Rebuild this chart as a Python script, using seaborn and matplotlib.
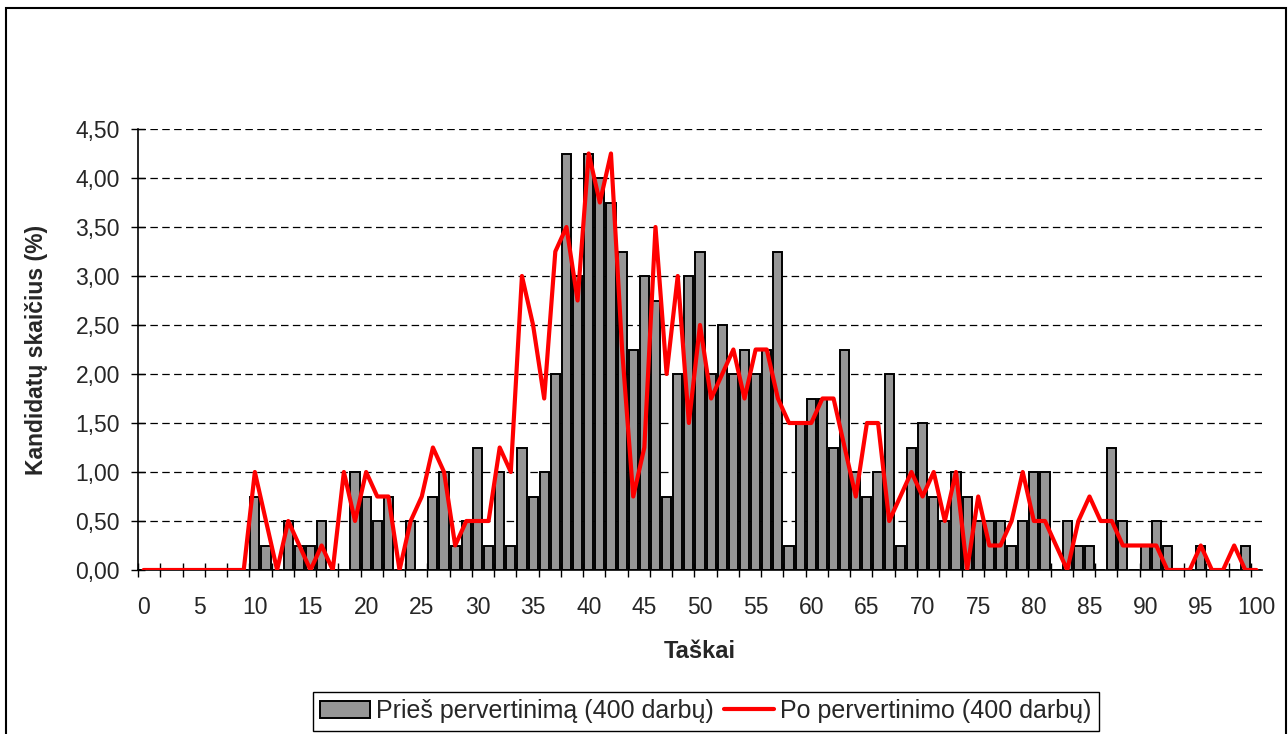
#!/usr/bin/env python3
"""Score distribution before / after re-marking (400 works)."""

import matplotlib
matplotlib.use("Agg")
import matplotlib.pyplot as plt
from matplotlib.patches import Patch, Rectangle
from matplotlib.lines import Line2D
from matplotlib.ticker import FixedLocator
import pandas as pd
import seaborn as sns

points = list(range(0, 101))

before = [
    0, 0, 0, 0, 0, 0, 0, 0, 0, 0,                      # 0-9
    0.75, 0.25, 0, 0.5, 0.25, 0.25, 0.5, 0, 0, 1.0,    # 10-19
    0.75, 0.5, 0.75, 0, 0.5, 0, 0.75, 1.0, 0.25, 0.5,  # 20-29
    1.25, 0.25, 1.0, 0.25, 1.25, 0.75, 1.0, 2.0, 4.25, 3.0,  # 30-39
    4.25, 4.0, 3.75, 3.25, 2.25, 3.0, 2.75, 0.75, 2.0, 3.0,  # 40-49
    3.25, 2.0, 2.5, 2.0, 2.25, 2.0, 2.25, 3.25, 0.25, 1.5,   # 50-59
    1.75, 1.75, 1.25, 2.25, 1.0, 0.75, 1.0, 2.0, 0.25, 1.25, # 60-69
    1.5, 0.75, 0.5, 1.0, 0.75, 0.5, 0.5, 0.5, 0.25, 0.5,     # 70-79
    1.0, 1.0, 0, 0.5, 0.25, 0.25, 0, 1.25, 0.5, 0,           # 80-89
    0.25, 0.5, 0.25, 0, 0, 0.25, 0, 0, 0, 0.25,              # 90-99
    0,                                                       # 100
]

after = [
    0, 0, 0, 0, 0, 0, 0, 0, 0, 0,                       # 0-9
    1.0, 0.5, 0, 0.5, 0.25, 0, 0.25, 0, 1.0, 0.5,       # 10-19
    1.0, 0.75, 0.75, 0, 0.5, 0.75, 1.25, 1.0, 0.25, 0.5,  # 20-29
    0.5, 0.5, 1.25, 1.0, 3.0, 2.5, 1.75, 3.25, 3.5, 2.75, # 30-39
    4.25, 3.75, 4.25, 2.25, 0.75, 1.25, 3.5, 2.0, 3.0, 1.5,   # 40-49
    2.5, 1.75, 2.0, 2.25, 1.75, 2.25, 2.25, 1.75, 1.5, 1.5,   # 50-59
    1.5, 1.75, 1.75, 1.25, 0.75, 1.5, 1.5, 0.5, 0.75, 1.0,    # 60-69
    0.75, 1.0, 0.5, 1.0, 0, 0.75, 0.25, 0.25, 0.5, 1.0,       # 70-79
    0.5, 0.5, 0.25, 0, 0.5, 0.75, 0.5, 0.5, 0.25, 0.25,       # 80-89
    0.25, 0.25, 0, 0, 0, 0.25, 0, 0, 0.25, 0,                 # 90-99
    0,                                                        # 100
]

x_labels = [str(v) for v in range(0, 101, 5)]
y_ticks = [0, 0.5, 1.0, 1.5, 2.0, 2.5, 3.0, 3.5, 4.0, 4.5]
y_labels = ["0,00", "0,50", "1,00", "1,50", "2,00", "2,50", "3,00", "3,50", "4,00", "4,50"]

label_before = "Prieš pervertinimą (400 darbų)"
label_after = "Po pervertinimo (400 darbų)"

BAR_GRAY = "#969696"
RED = "#ff0000"


def main() -> None:
    sns.set_style("white")
    plt.rcParams["font.family"] = ["Liberation Sans", "DejaVu Sans"]

    df = pd.DataFrame({"points": points, "before": before, "after": after})

    W, H = 1288, 734
    fig = plt.figure(figsize=(W / 100, H / 100), dpi=100)
    ax = fig.add_axes([138 / W, 1 - 570 / H, (1262 - 138) / W, (570 - 129) / H])

    sns.barplot(data=df, x="points", y="before", color=BAR_GRAY, saturation=1,
                edgecolor="black", linewidth=1.4, width=0.82, ax=ax, zorder=2)
    sns.lineplot(data=df, x="points", y="after", color=RED, linewidth=3.0,
                 ax=ax, zorder=3)

    ax.set_xlim(-0.5, 100.5)
    ax.set_ylim(0, 4.5)

    # grid
    for v in y_ticks[1:]:
        ax.axhline(v, color="black", linewidth=0.9, dashes=(6, 3.5), zorder=1)

    # x axis: labels every 5, ticks between every 2 categories
    ax.xaxis.set_major_locator(FixedLocator(list(range(0, 101, 5))))
    ax.set_xticklabels(x_labels, fontsize=16.5)
    ax.xaxis.set_minor_locator(FixedLocator([i - 0.5 for i in range(0, 101, 2)]))
    ax.tick_params(axis="x", which="major", length=0, pad=19)
    ax.tick_params(axis="x", which="minor", length=10, width=1, direction="inout",
                   color="black", bottom=True)

    ax.set_yticks(y_ticks)
    ax.set_yticklabels(y_labels, fontsize=16.5)
    ax.tick_params(axis="y", which="major", length=10, width=1, direction="inout",
                   color="black", left=True, pad=8)

    for side in ["top", "right"]:
        ax.spines[side].set_visible(False)
    for side in ["left", "bottom"]:
        ax.spines[side].set_color("black")
        ax.spines[side].set_linewidth(1.2)

    ax.set_xlabel("Taškai", fontsize=17, fontweight="bold", labelpad=15)
    ax.set_ylabel("Kandidatų skaičius (%)", fontsize=16.5, fontweight="bold", labelpad=20)

    handles = [
        Patch(facecolor=BAR_GRAY, edgecolor="black", linewidth=1.4),
        Line2D([0], [0], color=RED, linewidth=3.0),
    ]
    fig.legend(handles, [label_before, label_after], loc="center",
               bbox_to_anchor=(706 / W, 1 - 711 / H), ncol=2, fontsize=18,
               frameon=True, fancybox=False, edgecolor="black", framealpha=1,
               handlelength=2.0, handleheight=0.65, handletextpad=0.25,
               columnspacing=0.4, borderpad=0.3)

    # outer chart border
    fig.patches.append(Rectangle((6 / W, -0.05), (1286 - 6) / W, 1.05 - 8 / H,
                                 transform=fig.transFigure, fill=False,
                                 edgecolor="black", linewidth=1.5, zorder=0))

    fig.savefig("out.png", dpi=100)
    plt.close(fig)


if __name__ == "__main__":
    main()
